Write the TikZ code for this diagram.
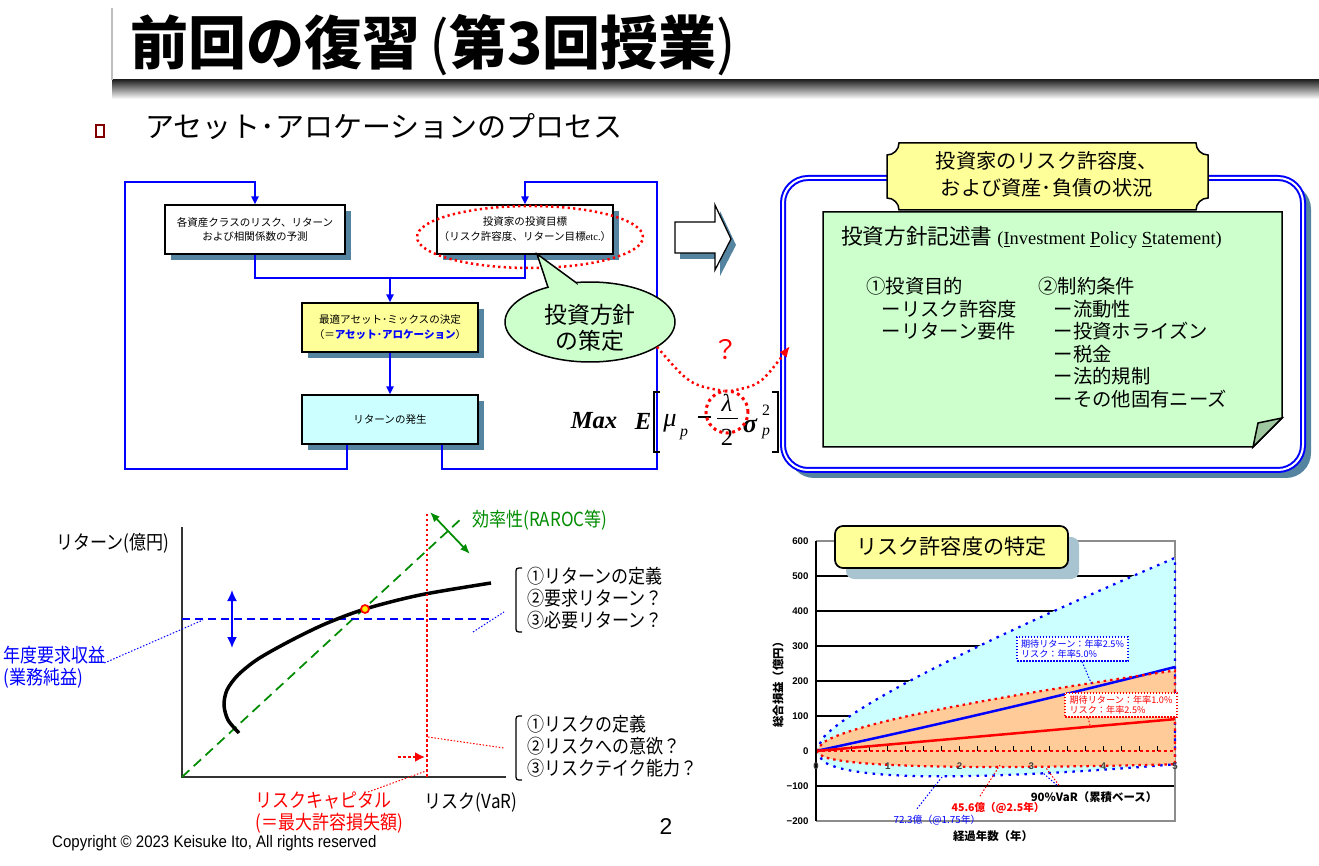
\documentclass[tikz,border=0pt]{standalone}
\usepackage{fontspec}
\setmainfont{Noto Sans CJK JP}
\newfontfamily\jpcond[FakeStretch=0.88]{Noto Sans CJK JP}
\newfontfamily\arial{Liberation Sans}
\newfontfamily\arialc[FakeStretch=0.9]{Liberation Sans}
\newfontfamily\tms{Liberation Serif}
\usetikzlibrary{arrows.meta,shadows}

\definecolor{shadowblue}{RGB}{84,132,160}
\definecolor{paleyellow}{RGB}{255,255,153}
\definecolor{palegreen}{RGB}{204,255,204}
\definecolor{foldgreen}{RGB}{160,200,160}
\definecolor{palecyan}{RGB}{204,255,255}
\definecolor{paleorange}{RGB}{255,204,153}
\definecolor{darkgreen}{RGB}{0,140,0}
\definecolor{bulletred}{RGB}{128,0,0}
\definecolor{titleshadow}{RGB}{168,196,208}

\tikzset{
  flowbox/.style={draw, line width=0.25mm, minimum width=35.2mm, minimum height=9.8mm,
    align=center, inner sep=1pt, font=\fontsize{6}{8.5}\selectfont,
    general shadow={fill=shadowblue, shadow xshift=1.2mm, shadow yshift=-1.2mm}},
  loopline/.style={blue, line width=0.4mm},
  looparrow/.style={loopline, -{Triangle[length=1.6mm,width=1.4mm]}},
  reddots/.style={red, line width=0.5mm, dash pattern=on 0.45mm off 0.65mm},
  leader/.style={line width=0.2mm, dash pattern=on 0.3mm off 0.35mm},
  chartlbl/.style={font=\jpcond\fontsize{11}{12.5}\selectfont, inner sep=0pt},
  numlbl/.style={font=\arial\bfseries\fontsize{5.5}{6}\selectfont, inner sep=0pt},
  fml/.style={inner sep=0pt},
  lblbox/.style={fill=white, line width=0.25mm, dash pattern=on 0.3mm off 0.3mm,
    minimum width=22.2mm, minimum height=4.8mm, align=left, inner sep=1pt,
    font=\fontsize{5.2}{6.2}\selectfont}
}

\begin{document}
\begin{tikzpicture}[x=0.2mm, y=-0.2mm]
  \useasboundingbox (0,0) rectangle (1319,866);

  % title and subtitle
  \shade[top color=black!85, bottom color=white] (112,80) rectangle (1319,99);
  \draw[black!25, line width=0.3mm] (112,8) -- (112,80);
  \node[anchor=west, font=\fontsize{33}{36}\selectfont\bfseries] (title) at (124,45) {前回の復習{\mdseries\,(}第3回授業{\mdseries)}};
  \draw[bulletred, line width=0.3mm] (96,125) rectangle (104,137);
  \node[anchor=west, font=\fontsize{16.5}{20}\selectfont] (sub) at (139,127) {アセット･アロケーションのプロセス};

  % flowchart boxes
  \node[flowbox, fill=white, minimum width=36mm] (fcast) at (255,229.5) {各資産クラスのリスク、リターン\\および相関係数の予測};
  \node[flowbox, fill=white] (goal) at (525,229.5) {投資家の投資目標\\（リスク許容度、リターン目標{\tms etc.}）};
  \node[flowbox, fill=paleyellow] (mix) at (390,327.5) {最適アセット･ミックスの決定\\（＝{\color{blue}\bfseries アセット･アロケーション}）};
  \node[flowbox, fill=palecyan] (ret) at (390,419.5) {リターンの発生};

  % flowchart connectors
  \coordinate (merge) at (390,278);
  \draw[loopline] (fcast.south) |- (merge) -| (goal.south);
  \draw[looparrow] (merge) -- (mix.north);
  \draw[looparrow] (mix.south) -- (ret.north);
  \draw[looparrow] ([xshift=-8.6mm]ret.south) -- ++(0,24) -| (125,182) -| (fcast.north);
  \draw[looparrow] ([xshift=10.4mm]ret.south) -- ++(0,24) -| (657,182) -| (goal.north);
  \draw[reddots] (530,237) ellipse [x radius=22.6mm, y radius=6.2mm];

  % callout
  \filldraw[fill=palegreen, draw=black, line width=0.3mm] (576,282.6) -- (537,254) -- (548,287.2)
    -- plot[domain=0:339.9, samples=90] ({590+85*cos(240.4-\x)},{322+40*sin(240.4-\x)}) -- cycle;
  \node[font=\fontsize{13}{14.7}\selectfont, align=center] (policy) at (590,328) {投資方針\\の策定};

  % block arrow
  \fill[shadowblue] (680,228) -- (720,228) -- (720,211) -- (736,245) -- (720,276) -- (720,259) -- (680,259) -- cycle;
  \filldraw[fill=white, draw=black, line width=0.25mm] (675,222) -- (715,222) -- (715,205) -- (731,239) -- (715,270) -- (715,253) -- (675,253) -- cycle;

  % formula
  \node[fml, font=\tms\bfseries\itshape\fontsize{14}{14}\selectfont] (fmax) at (594,421) {Max};
  \node[fml, font=\tms\bfseries\itshape\fontsize{14}{14}\selectfont] (fe) at (643,421) {E};
  \draw[line width=0.3mm] (660,392) -- (654,392) -- (654,452) -- (660,452);
  \node[fml, font=\tms\itshape\fontsize{15}{15}\selectfont] (fmu) at (670,423) {μ};
  \node[fml, font=\tms\itshape\fontsize{9}{9}\selectfont] (fmup) at (684,434) {p};
  \draw[line width=0.25mm] (698,417) -- (711,417);
  \node[fml, font=\tms\itshape\fontsize{14}{14}\selectfont] (flam) at (727,403) {λ};
  \draw[line width=0.2mm] (717,419) -- (738,419);
  \node[fml, font=\tms\fontsize{14}{14}\selectfont] (ftwo) at (727,437) {2};
  \node[fml, font=\tms\bfseries\itshape\fontsize{15}{15}\selectfont] (fsig) at (750,426) {σ};
  \node[fml, font=\tms\fontsize{9}{9}\selectfont] (fsq) at (766,410) {2};
  \node[fml, font=\tms\itshape\fontsize{9}{9}\selectfont] (fsp) at (766,433) {p};
  \draw[line width=0.3mm] (772,392) -- (778,392) -- (778,452) -- (772,452);
  \draw[red, line width=0.6mm, dash pattern=on 0.6mm off 0.7mm] (727,412) circle [radius=4.2mm];

  % right panel
  \fill[shadowblue, rounded corners=5mm] (789,184) rectangle (1311,478);
  \filldraw[fill=white, draw=blue, double=white, double distance=0.4mm, line width=0.4mm, rounded corners=5mm] (783,178) rectangle (1303,470);
  \filldraw[fill=palegreen, draw=black, line width=0.3mm] (823,212) -- (1282,212) -- (1282,418) -- (1253,447) -- (823,447) -- cycle;
  \filldraw[fill=foldgreen, draw=black, line width=0.3mm] (1253,447) -- (1258,423) -- (1282,418) -- cycle;
  \filldraw[fill=paleyellow, draw=black, line width=0.3mm] (899,143) -- (1196,143) .. controls (1196,149.6) and (1201.4,155) .. (1208,155)
    -- (1208,198) .. controls (1201.4,198) and (1196,203.4) .. (1196,210) -- (899,210)
    .. controls (899,203.4) and (893.6,198) .. (887,198) -- (887,155) .. controls (893.6,155) and (899,149.6) .. (899,143) -- cycle;
  \node[align=center, font=\fontsize{11.5}{15.3}\selectfont] (state) at (1047,174) {投資家のリスク許容度、\\および資産･負債の状況};
  \node[anchor=west, font=\fontsize{12.3}{14}\selectfont] (ips) at (835,237) {投資方針記述書 {\tms\fontsize{10.5}{12}\selectfont (\underline{I}nvestment \underline{P}olicy \underline{S}tatement)}};
  \node[anchor=north west, align=left, inner sep=0pt, font=\fontsize{11}{12.8}\selectfont] (aims) at (866,277) {①投資目的\\\hspace{0.8em}ーリスク許容度\\\hspace{0.8em}ーリターン要件};
  \node[anchor=north west, align=left, inner sep=0pt, font=\fontsize{11}{12.8}\selectfont] (limits) at (1038,277) {②制約条件\\\hspace{0.8em}ー流動性\\\hspace{0.8em}ー投資ホライズン\\\hspace{0.8em}ー税金\\\hspace{0.8em}ー法的規制\\\hspace{0.8em}ーその他固有ニーズ};

  % question link
  \coordinate (qa) at (657,347);
  \coordinate (qb) at (724,391);
  \coordinate (qc) at (731,391);
  \coordinate (qd) at (790,346);
  \draw[reddots] (qa) .. controls (690,385) .. (qb);
  \draw[reddots, -{Latex[length=2.2mm,width=1.8mm]}] (qc) .. controls (760,385) .. (qd);
  \node[text=red, font=\fontsize{15}{15}\selectfont] (qmark) at (726,350) {？};

  % risk-return chart
  \draw[black!80, line width=0.3mm] (182,527) -- (182,777) -- (506,777);
  \draw[darkgreen, line width=0.35mm, dash pattern=on 2mm off 1.2mm] (182,777) -- (462,518);
  \draw[darkgreen, line width=0.35mm, {Latex[length=2mm,width=1.6mm]}-{Latex[length=2mm,width=1.6mm]}] (430,512) -- (470,554);
  \draw[blue, line width=0.35mm, dash pattern=on 1.6mm off 1mm] (182,619) -- (493,619);
  \draw[blue, line width=0.35mm, {Latex[length=2.2mm,width=2mm]}-{Latex[length=2.2mm,width=2mm]}] (232,590) -- (232,648);
  \draw[line width=0.7mm] plot[smooth] coordinates {(239,733) (228,720) (224,705) (227,690) (238,675) (258,659) (290,641) (325,624) (365,609) (420,595) (491,583)};
  \draw[red, line width=0.5mm, dash pattern=on 0.5mm off 0.5mm] (427,514) -- (427,777);
  \draw[red, line width=0.5mm, dash pattern=on 0.5mm off 0.5mm, -{Latex[length=2mm,width=2mm]}] (398,757) -- (425,757);
  \draw[red, fill=yellow, line width=0.35mm] (365,609) circle [radius=0.8mm];
  \node[chartlbl] (retax) at (113,543) {リターン(億円)};
  \node[chartlbl] (riskax) at (471,802) {リスク(VaR)};
  \node[chartlbl, text=darkgreen, anchor=west] (eff) at (472,520) {効率性(RAROC等)};
  \node[chartlbl, text=blue, anchor=west, align=left] (req) at (3,667) {年度要求収益\\(業務純益)};
  \node[chartlbl, text=red, anchor=north west, align=left] (cap) at (255,791) {リスクキャピタル\\(＝最大許容損失額)};
  \node[chartlbl, anchor=west, align=left] (retq) at (527,598) {①リターンの定義\\②要求リターン？\\③必要リターン？};
  \node[chartlbl, anchor=west, align=left] (riskq) at (527,746) {①リスクの定義\\②リスクへの意欲？\\③リスクテイク能力？};
  \draw[line width=0.25mm] (522,568) .. controls (516,568) .. (516,574) -- (516,626) .. controls (516,632) .. (522,632);
  \draw[line width=0.25mm] (522,716) .. controls (516,716) .. (516,722) -- (516,774) .. controls (516,780) .. (522,780);
  \draw[leader, blue] ([xshift=-0.3mm]req.east |- 0,663) -- (203,620);
  \draw[leader, blue] (473,632) -- (504,612);
  \draw[leader, red] (428,737) -- (504,748);
  \draw[leader, red] (368,792) -- (426,771);

  % risk tolerance chart
  \begin{scope}[shift={(816,751)}, x=14.36mm, y=0.07mm]
    \foreach \v in {-100,100,200,300,400,500}
      \draw[line width=0.25mm] (0,\v) -- (5,\v);
    \draw[black!45, line width=0.3mm] (0,600) -- (5,600) -- (5,-200) -- (0,-200);
    \fill[palecyan] plot[domain=0:5, samples=50] (\x,{65.5*\x+100.3*sqrt(\x)})
      -- plot[domain=0:5, samples=50] (5-\x,{41.3*(5-\x)-109.3*sqrt(5-\x)}) -- cycle;
    \fill[paleorange] plot[domain=0:5, samples=50] (\x,{13.3*\x+73.1*sqrt(\x)})
      -- plot[domain=0:5, samples=50] (5-\x,{18.24*(5-\x)-57.7*sqrt(5-\x)}) -- cycle;
    \draw[red, line width=0.35mm, dash pattern=on 0.6mm off 0.6mm] (0,0) -- (5,0);
    \foreach \t in {0.25,0.5,...,4.8}
      \draw[line width=0.2mm] (\t,0) -- (\t,14);
    \draw[blue, line width=0.5mm] plot[domain=0:5, samples=30] (\x,{44*\x+0.8*\x*\x});
    \draw[red, line width=0.5mm] plot[domain=0:5, samples=10] (\x,{18.2*\x});
    \draw[blue, line width=0.45mm, dash pattern=on 0.5mm off 1.1mm] plot[domain=0:5, samples=50] (\x,{65.5*\x+100.3*sqrt(\x)}) -- (5,-37.9);
    \draw[blue, line width=0.45mm, dash pattern=on 0.5mm off 1.1mm] plot[domain=0:5, samples=50] (\x,{41.3*\x-109.3*sqrt(\x)});
    \draw[red, line width=0.45mm, dash pattern=on 0.5mm off 0.8mm] plot[domain=0:5, samples=50] (\x,{13.3*\x+73.1*sqrt(\x)}) -- (5,-37.8);
    \draw[red, line width=0.45mm, dash pattern=on 0.5mm off 0.8mm] plot[domain=0:5, samples=50] (\x,{18.24*\x-57.7*sqrt(\x)});
    \draw[line width=0.45mm] (0,600) -- (0,-200);
    \foreach \v/\s in {600/600,500/500,400/400,300/300,200/200,100/100,0/0,-100/−100,-200/−200}
      \node[numlbl, anchor=east] at (-0.1,\v) {\s};
    \foreach \t in {0,...,5}
      \node[numlbl, text=black!75] at (\t,-43) {\t};
  \end{scope}
  \node[font=\fontsize{6.5}{7}\selectfont\bfseries, rotate=90] (pnl) at (778,682) {総合損益（億円）};
  \node[font=\fontsize{6.5}{7}\selectfont\bfseries] (yrs) at (993,836) {経過年数（年）};
  \node[draw, rounded corners=1.6mm, fill=paleyellow, line width=0.35mm, minimum width=46.6mm, minimum height=8.4mm,
    font=\fontsize{12}{13}\selectfont, general shadow={fill=titleshadow, shadow xshift=2.2mm, shadow yshift=-2.2mm}] (ttl) at (951.5,547) {リスク許容度の特定};
  \node[lblbox, draw=blue, text=blue] (blbl) at (1072.5,649) {期待リターン：年率2.5\%\\リスク：年率5.0\%};
  \node[lblbox, draw=red, text=red, minimum width=22.4mm] (rlbl) at (1121,705) {期待リターン：年率1.0\%\\リスク：年率2.5\%};
  \draw[leader, blue] ([xshift=1.9mm]blbl.south) -- (1092,685);
  \draw[leader, red] ([xshift=-6.6mm]rlbl.south) -- (1090,725);
  \node[font=\fontsize{6.5}{7}\selectfont\bfseries] (var) at (1094,797) {90\%VaR（累積ベース）};
  \node[text=red, font=\fontsize{6}{7}\selectfont\bfseries] (red46) at (998,808) {45.6億（@2.5年）};
  \node[text=blue, font=\fontsize{5.6}{7}\selectfont] (blue72) at (937,820) {72.3億（@1.75年）};
  \draw[leader, blue] ([xshift=-7.4mm]var.north) -- (1043,773);
  \draw[leader, red] ([xshift=-7mm]var.north) -- (1046,768);
  \draw[leader, red] ([xshift=-3.6mm]red46.north) -- (1000,765);
  \draw[leader, blue] ([xshift=-4mm]blue72.north) -- (942,777);

  % footer
  \node[anchor=west, font=\arialc\fontsize{9.5}{10}\selectfont] (copy) at (46,843) {Copyright © 2023 Keisuke Ito, All rights reserved};
  \node[font=\arial\fontsize{13}{13}\selectfont] (page) at (666,827) {2};
\end{tikzpicture}
\end{document}
